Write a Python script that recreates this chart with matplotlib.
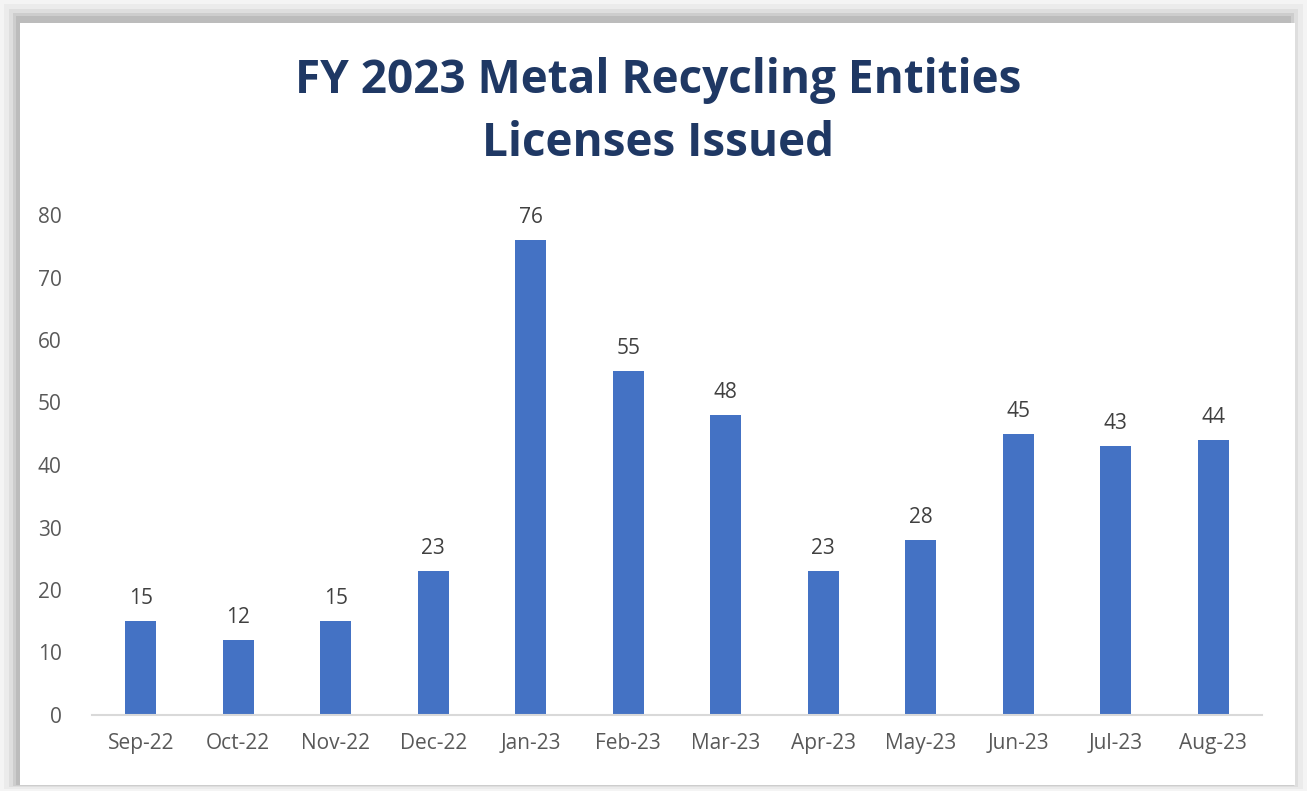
import matplotlib
matplotlib.use("Agg")
import matplotlib.pyplot as plt
from matplotlib.patches import Rectangle

months = ["Sep-22", "Oct-22", "Nov-22", "Dec-22", "Jan-23", "Feb-23",
          "Mar-23", "Apr-23", "May-23", "Jun-23", "Jul-23", "Aug-23"]
licenses = [15, 12, 15, 23, 76, 55, 48, 23, 28, 45, 43, 44]
yticks = [0, 10, 20, 30, 40, 50, 60, 70, 80]
title_lines = ["FY 2023 Metal Recycling Entities", "Licenses Issued"]

W, H = 1307, 791
fig = plt.figure(figsize=(W / 100, H / 100), dpi=100)
fig.patch.set_facecolor("#f4f4f4")

# frame shading (soft shadow around white card)
shades = [(4, "#ebebeb"), (9, "#dedede"), (13, "#cdcdcd"), (16, "#bcbcbc")]
for inset, col in shades:
    fig.patches.append(Rectangle((inset / W, inset * 0.4 / H),
                                 (W - 2 * inset) / W, (H - inset * 1.4) / H,
                                 transform=fig.transFigure, facecolor=col,
                                 edgecolor="none", zorder=0))
# white card
x0, y0top, x1, y1bot = 20, 23, 1295, 785
fig.patches.append(Rectangle((x0 / W, 1 - y1bot / H), (x1 - x0) / W, (y1bot - y0top) / H,
                             transform=fig.transFigure, facecolor="white",
                             edgecolor="none", zorder=1))

plt.rcParams["font.family"] = ["Open Sans", "DejaVu Sans"]

ax_l, ax_r, ax_b, ax_t = 92, 1262, 715, 215
ax = fig.add_axes([ax_l / W, 1 - ax_b / H, (ax_r - ax_l) / W, (ax_b - ax_t) / H])
ax.set_facecolor("none")
ax.set_zorder(2)

x = list(range(len(months)))
ax.bar(x, licenses, width=0.32, color="#4472C4", zorder=3)
for xi, v in zip(x, licenses):
    ax.text(xi, v + 1.9, str(v), ha="center", va="bottom", fontsize=15,
            color="#404040")

ax.set_xlim(-0.5, len(months) - 0.5)
ax.set_ylim(0, 80)
ax.set_yticks(yticks)
ax.set_yticklabels([str(t) for t in yticks], fontsize=15, color="#595959")
ax.set_xticks(x)
ax.set_xticklabels(months, fontsize=15, color="#595959")
ax.tick_params(axis="both", length=0)
ax.tick_params(axis="y", pad=22)
ax.tick_params(axis="x", pad=13)
for s in ["top", "right", "left"]:
    ax.spines[s].set_visible(False)
ax.spines["bottom"].set_color("#d9d9d9")
ax.spines["bottom"].set_linewidth(1.5)
ax.spines["bottom"].set_zorder(4)

for line, ypx in zip(title_lines, [80, 144]):
    fig.text(658 / W, 1 - ypx / H, line, ha="center", va="center",
             fontsize=33, fontweight="bold", color="#1F3864", zorder=5)

fig.savefig("out.png", dpi=100, facecolor=fig.get_facecolor())
